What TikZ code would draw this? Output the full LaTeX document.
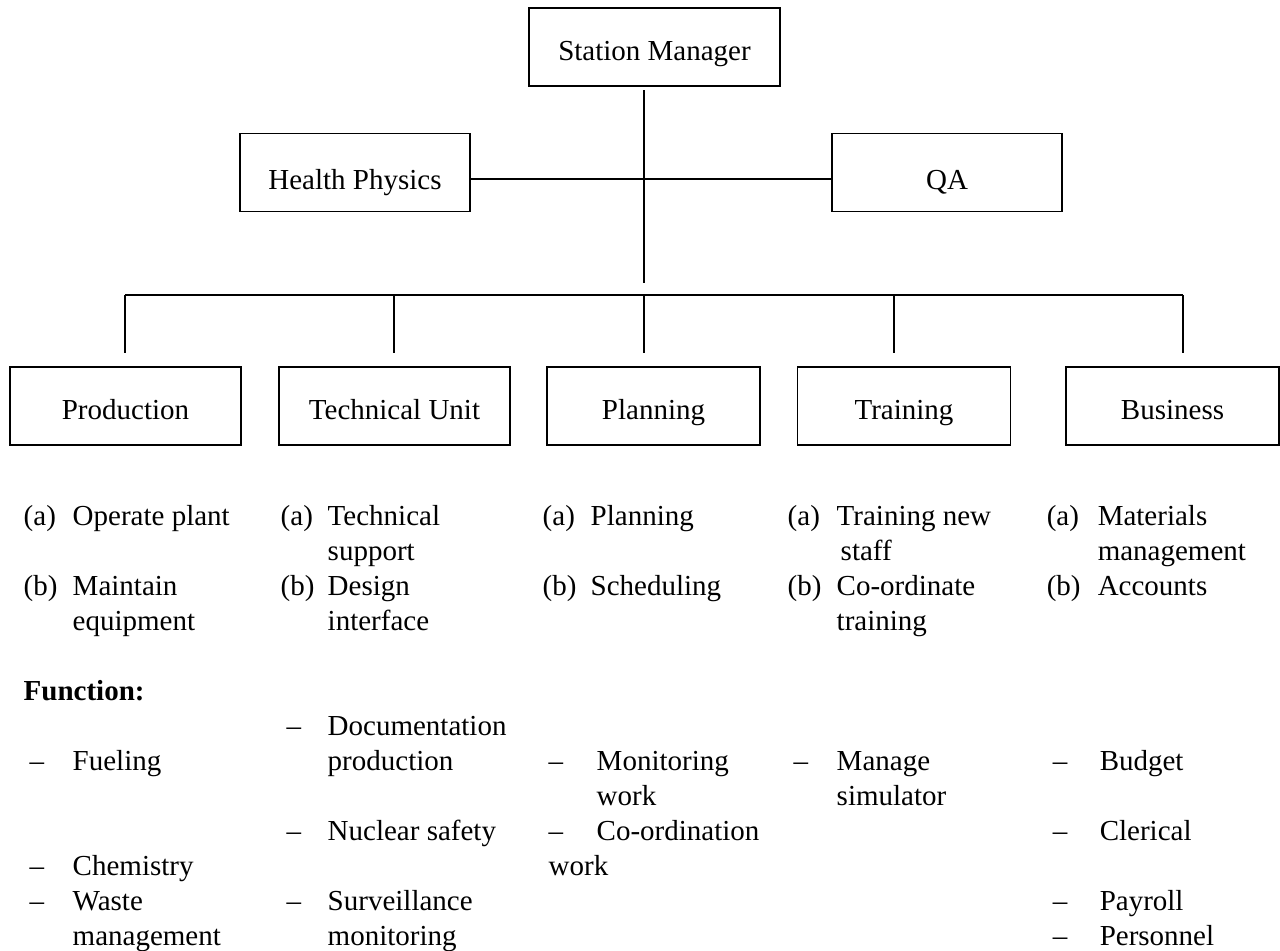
\documentclass[tikz,border=0pt]{standalone}
\usepackage{fontspec}
\setmainfont{Liberation Serif}
\begin{document}
\begin{tikzpicture}[x=0.75pt, y=-0.75pt, line width=1.1pt,
  font=\fontsize{21.75pt}{26.25pt}\selectfont,
  box/.style={draw, rectangle, inner sep=0pt, minimum width=#1, minimum height=58.5pt,
    text height=19.5pt, text depth=0pt},
  item/.style={anchor=north west, align=left, inner sep=0pt}]
\useasboundingbox (0,0) rectangle (1280,950);

% top of the chart
\node[box=188.25pt] (sm) at (654.5,47) {Station Manager};
\node[box=172.5pt, text height=25.5pt] (hp) at (355,172.5) {Health Physics};
\node[box=172.5pt, text height=25.5pt] (qa) at (947,172.5) {QA};
\coordinate (smfoot) at (644,90);
\coordinate (hub) at (644,283);
\draw (smfoot) -- (hub);
\draw ([yshift=-4.9pt]hp.east) -- ([yshift=-4.9pt]qa.west);

% departments
\node[box=173.25pt] (prod) at (125.5,406) {Production};
\node[box=173.25pt] (tech) at (394.5,406) {Technical Unit};
\node[box=159.75pt] (plan) at (653.5,406) {Planning};
\node[box=159.75pt] (train) at (904,406) {Training};
\node[box=159.75pt] (bus) at (1172.5,406) {Business};

\foreach \x/\n in {125/prod,394/tech,644/plan,894/train,1183/bus} {
  \coordinate (top-\n) at (\x,295);
  \coordinate (foot-\n) at (\x,353);
  \draw (top-\n) -- (foot-\n);
}
\draw (top-prod) -- (top-bus);

% duties
\node[item] (prodAl) at (23,500.5) {\strut(a)};
\node[item] (prodA) at (72,500.5) {\strut Operate plant};
\node[item] (prodBl) at (23,570.5) {\strut(b)};
\node[item] (prodB) at (72,570.5) {\strut Maintain\\equipment};
\node[item] (techAl) at (280,500.5) {\strut(a)};
\node[item] (techA) at (327,500.5) {\strut Technical\\support};
\node[item] (techBl) at (280,570.5) {\strut(b)};
\node[item] (techB) at (327,570.5) {\strut Design\\interface};
\node[item] (planAl) at (542,500.5) {\strut(a)};
\node[item] (planA) at (590,500.5) {\strut Planning};
\node[item] (planBl) at (542,570.5) {\strut(b)};
\node[item] (planB) at (590,570.5) {\strut Scheduling};
\node[item] (trainAl) at (787,500.5) {\strut(a)};
\node[item] (trainA) at (836,500.5) {\strut Training new\\\hspace{3pt}staff};
\node[item] (trainBl) at (787,570.5) {\strut(b)};
\node[item] (trainB) at (836,570.5) {\strut Co-ordinate\\training};
\node[item] (busAl) at (1046,500.5) {\strut(a)};
\node[item] (busA) at (1097,500.5) {\strut Materials\\management};
\node[item] (busBl) at (1046,570.5) {\strut(b)};
\node[item] (busB) at (1097,570.5) {\strut Accounts};

% functions
\node[item] (fn) at (23,675.5) {\strut\bfseries Function:};
\node[item] (fuelD) at (29,745.5) {\strut--};
\node[item] (fuel) at (72,745.5) {\strut Fueling};
\node[item] (chemD) at (29,850.5) {\strut--};
\node[item] (chem) at (72,850.5) {\strut Chemistry};
\node[item] (wasteD) at (29,885.5) {\strut--};
\node[item] (waste) at (72,885.5) {\strut Waste\\management};
\node[item] (docD) at (286,710.5) {\strut--};
\node[item] (doc) at (327,710.5) {\strut Documentation\\production};
\node[item] (safeD) at (286,815.5) {\strut--};
\node[item] (safe) at (327,815.5) {\strut Nuclear safety};
\node[item] (survD) at (286,885.5) {\strut--};
\node[item] (surv) at (327,885.5) {\strut Surveillance\\monitoring};
\node[item] (monD) at (548,745.5) {\strut--};
\node[item] (mon) at (596,745.5) {\strut Monitoring\\work};
\node[item] (coord) at (548,815.5) {\strut\makebox[36pt][l]{--}Co-ordination\\work};
\node[item] (simD) at (793,745.5) {\strut--};
\node[item] (sim) at (836,745.5) {\strut Manage\\simulator};
\node[item] (budD) at (1052,745.5) {\strut--};
\node[item] (bud) at (1099,745.5) {\strut Budget};
\node[item] (clerD) at (1052,815.5) {\strut--};
\node[item] (cler) at (1099,815.5) {\strut Clerical};
\node[item] (payD) at (1052,885.5) {\strut--};
\node[item] (pay) at (1099,885.5) {\strut Payroll};
\node[item] (persD) at (1052,920.5) {\strut--};
\node[item] (pers) at (1099,920.5) {\strut Personnel};
\end{tikzpicture}
\end{document}
